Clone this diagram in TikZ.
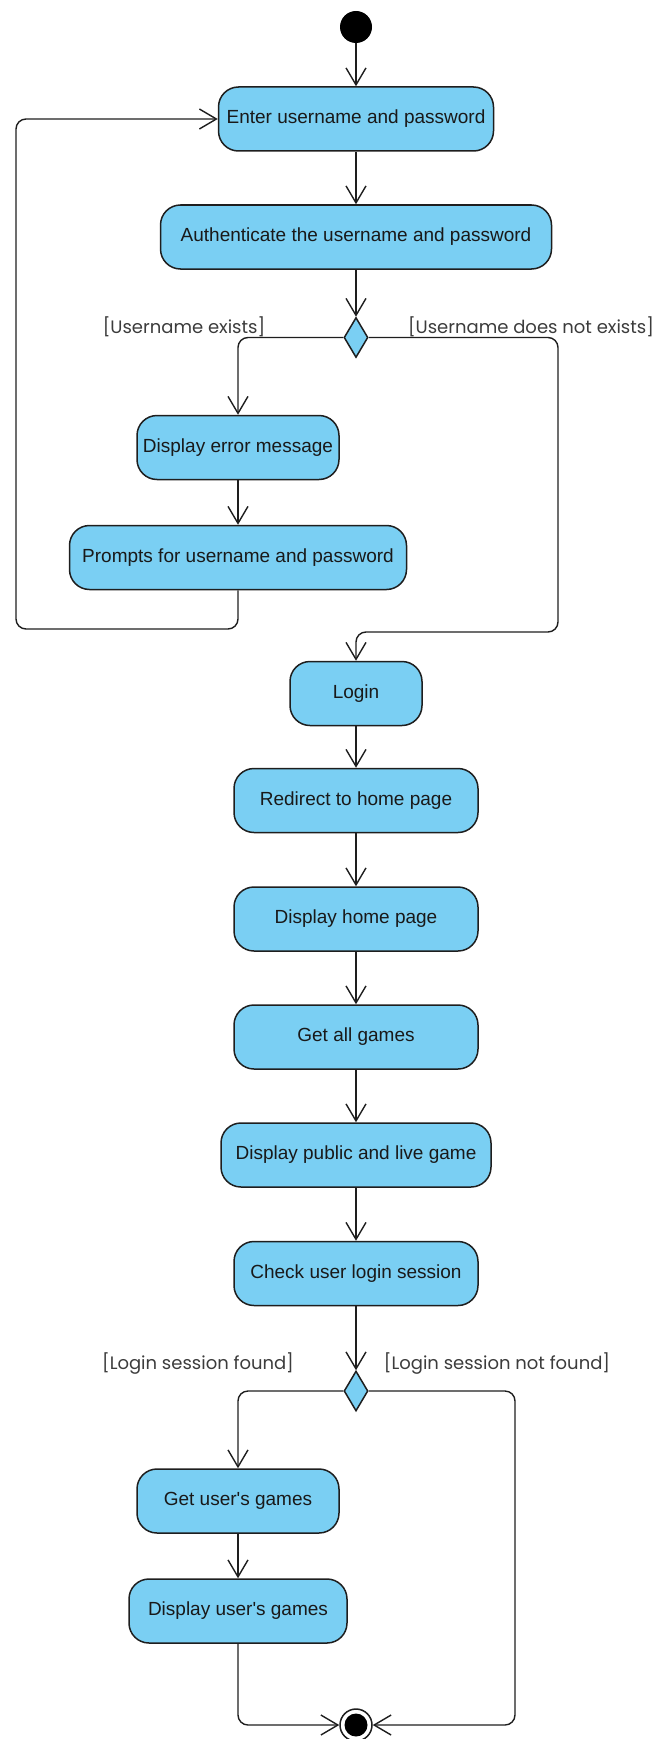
\documentclass[tikz,border=0pt]{standalone}
\usepackage{fontspec}
\setmainfont{Liberation Sans}[Ligatures=TeXOff]
\newfontfamily\guardfont{Poppins}
\usetikzlibrary{arrows.meta,shapes.geometric}
\definecolor{actfill}{RGB}{122,207,243}
\definecolor{edgeclr}{RGB}{30,30,30}
\definecolor{guardtxt}{RGB}{60,60,60}

\begin{document}
\begin{tikzpicture}[x=1pt,y=-1pt,
  activity/.style={draw=edgeclr, line width=1.5pt, fill=actfill,
    rounded corners=20pt, minimum height=64pt, inner sep=0pt,
    font=\fontsize{19}{22}\selectfont, text=black!90},
  decision/.style={diamond, draw=edgeclr, line width=1.5pt, fill=actfill,
    minimum width=24pt, minimum height=40pt, inner sep=0pt},
  flow/.style={draw=edgeclr, line width=1.4pt,
    -{Straight Barb[length=17pt,width=20pt]}, rounded corners=10pt},
  guard/.style={font=\guardfont\fontsize{18}{20}\selectfont,
    text=guardtxt, inner sep=0pt}]
\useasboundingbox (0,0) rectangle (654,1739);

% initial node
\node[circle, fill=black, minimum size=32pt, inner sep=0pt] (start) at (356,27) {};

% login part
\node[activity, minimum width=275pt] (enter) at (356,119) {Enter username and password};
\node[activity, minimum width=391pt] (auth) at (356,237) {Authenticate the username and password};
\node[decision] (d1) at (356,337.5) {};
\node[activity, minimum width=202pt] (err) at (238,447.5) {Display error message};
\node[activity, minimum width=337pt] (prompt) at (238,557.5) {Prompts for username and password};
\node[activity, minimum width=132pt] (login) at (356,693.5) {Login};

% home page part
\node[activity, minimum width=244pt] (redirect) at (356,800.5) {Redirect to home page};
\node[activity, minimum width=244pt] (home) at (356,919) {Display home page};
\node[activity, minimum width=244pt] (games) at (356,1037) {Get all games};
\node[activity, minimum width=270pt] (public) at (356,1155) {Display public and live game};
\node[activity, minimum width=244pt] (check) at (356,1273.5) {Check user login session};
\node[decision] (d2) at (356,1391) {};
\node[activity, minimum width=202pt] (getuser) at (238,1501) {Get user's games};
\node[activity, minimum width=218pt] (dispuser) at (238,1611) {Display user's games};

% final node
\node[circle, draw=edgeclr, line width=1.5pt, fill=white, minimum size=32pt, inner sep=0pt] (final) at (356,1725) {};
\fill[black] (final.center) circle[radius=11.5];

% guard labels
\node[guard] (gexists) at (184,327) {[Username exists]};
\node[guard] (gnotexists) at (531,327) {[Username does not exists]};
\node[guard] (gfound) at (198,1364) {[Login session found]};
\node[guard] (gnotfound) at (497,1364) {[Login session not found]};

% routing points
\coordinate (loopcorner) at (16,629);
\coordinate (okcorner) at (558,632);
\coordinate (nscorner) at (515,1725);

% flows
\draw[flow] (start) -- (enter);
\draw[flow] (enter) -- (auth);
\draw[flow] (auth) -- (d1.north);
\draw[flow] (d1.west) -| (err.north);
\draw[flow] (err) -- (prompt);
\draw[flow] (prompt.south) |- (loopcorner) |- (enter.west);
\draw[flow] (d1.east) -| (okcorner) -| (login.north);
\draw[flow] (login) -- (redirect);
\draw[flow] (redirect) -- (home);
\draw[flow] (home) -- (games);
\draw[flow] (games) -- (public);
\draw[flow] (public) -- (check);
\draw[flow] (check) -- (d2.north);
\draw[flow] (d2.west) -| (getuser.north);
\draw[flow] (getuser) -- (dispuser);
\draw[flow] (dispuser.south) |- (final.west);
\draw[flow] (d2.east) -| (nscorner) -- (final.east);
\end{tikzpicture}
\end{document}
